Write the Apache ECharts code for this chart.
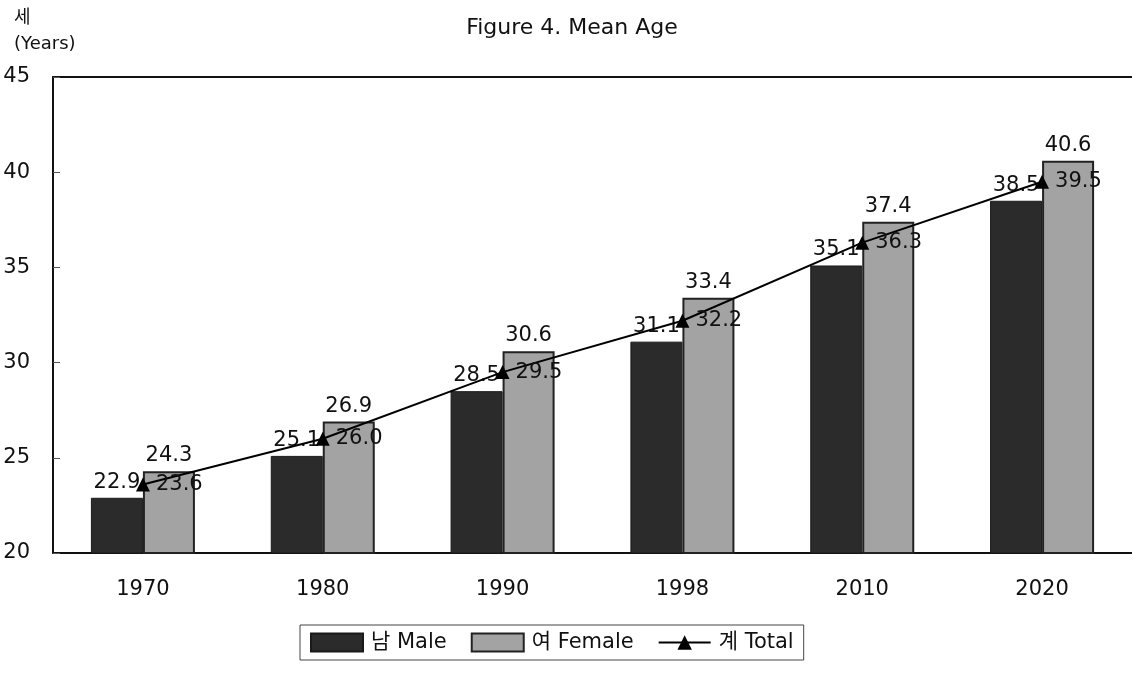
<!DOCTYPE html>
<html>
<head>
<meta charset="utf-8">
<script src="https://cdn.jsdelivr.net/npm/echarts@6/dist/echarts.min.js"></script>
<style>
  html, body { margin: 0; padding: 0; background: #fff; }
  #main { width: 1132px; height: 679px; }
</style>
</head>
<body>
<div id="main"></div>
<script>
// data
var years = ['1970', '1980', '1990', '1998', '2010', '2020'];
var maleAge = [22.9, 25.1, 28.5, 31.1, 35.1, 38.5];
var femaleAge = [24.3, 26.9, 30.6, 33.4, 37.4, 40.6];
var totalAge = [23.6, 26.0, 29.5, 32.2, 36.3, 39.5];

var FONT = '"DejaVu Sans", "Noto Sans CJK KR", sans-serif';

function fmt(p) { return p.value.toFixed(1); }

var myChart = echarts.init(document.getElementById('main'));

var option = {
    backgroundColor: '#fff',
    animation: false,
    textStyle: { fontFamily: FONT },
    title: [{
        text: 'Figure 4. Mean Age',
        left: 567,
        textAlign: 'center',
        top: 12,
        textStyle: { fontSize: 22, fontWeight: 'normal', color: '#111', fontFamily: FONT }
    }, {
        text: '세\n(Years)',
        left: 9,
        top: 0,
        textStyle: { fontSize: 18, fontWeight: 'normal', color: '#111', lineHeight: 26, fontFamily: FONT }
    }],
    legend: {
        bottom: 19,
        left: 300,
        itemGap: 24,
        itemWidth: 52,
        itemHeight: 18,
        padding: [7, 10],
        borderColor: '#444',
        borderWidth: 1,
        textStyle: { fontSize: 21, color: '#111', fontFamily: FONT, padding: [0, 0, 0, 3] },
        data: [
            { name: '남 Male', icon: 'rect' },
            { name: '여 Female', icon: 'rect' },
            { name: '계 Total' }
        ]
    },
    grid: { left: 53, right: -1, top: 77, bottom: 126 },
    xAxis: [{
        type: 'category',
        data: years,
        axisTick: { show: false },
        axisLine: { lineStyle: { color: '#111', width: 2 } },
        axisLabel: { fontSize: 21, color: '#111', margin: 26, fontFamily: FONT }
    }, {
        // top frame line of the plot area
        type: 'category',
        data: years,
        position: 'top',
        axisTick: { show: false },
        axisLabel: { show: false },
        axisLine: { show: true, lineStyle: { color: '#111', width: 2 } }
    }],
    yAxis: {
        type: 'value',
        min: 20,
        max: 45,
        interval: 5,
        splitLine: { show: false },
        axisLine: { show: true, lineStyle: { color: '#111', width: 2 } },
        axisTick: { show: true, inside: true, length: 7, lineStyle: { color: '#555' } },
        axisLabel: { fontSize: 21, color: '#111', margin: 23, fontFamily: FONT }
    },
    series: [{
        name: '남 Male',
        type: 'bar',
        data: maleAge,
        barWidth: 52,
        barGap: '0%',
        itemStyle: { color: '#2b2b2b', borderColor: '#1a1a1a', borderWidth: 1 },
        label: { show: true, position: 'top', distance: 5, fontSize: 21, color: '#111', fontFamily: FONT, formatter: fmt }
    }, {
        name: '여 Female',
        type: 'bar',
        data: femaleAge,
        barWidth: 52,
        itemStyle: { color: '#a3a3a3', borderColor: '#222', borderWidth: 2 },
        label: { show: true, position: 'top', distance: 5, fontSize: 21, color: '#111', fontFamily: FONT, formatter: fmt }
    }, {
        name: '계 Total',
        type: 'line',
        data: totalAge,
        symbol: 'triangle',
        symbolSize: 14,
        itemStyle: { color: '#000' },
        lineStyle: { color: '#000', width: 2 },
        z: 5,
        label: { show: true, position: 'right', distance: 6, fontSize: 21, color: '#111', fontFamily: FONT, formatter: fmt }
    }]
};

myChart.setOption(option);
</script>
</body>
</html>
